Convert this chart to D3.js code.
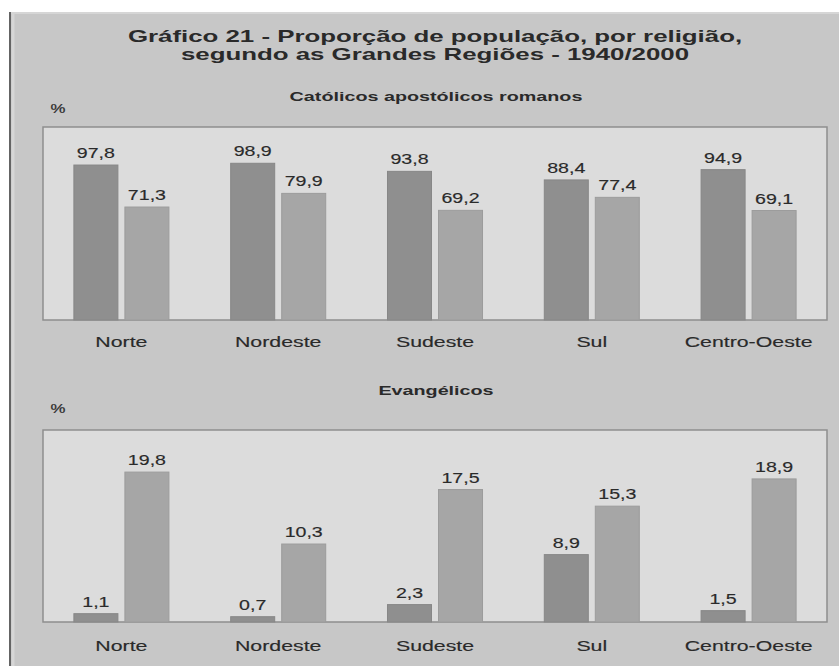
<!DOCTYPE html>
<html>
<head>
<meta charset="utf-8">
<script src="https://cdn.jsdelivr.net/npm/d3@7"></script>
<style>
  html, body { margin: 0; padding: 0; background: #ffffff; }
  svg { display: block; }
  text { font-family: "Liberation Sans", Arial, Helvetica, sans-serif; fill: #2a2a2a; }
</style>
</head>
<body>
<svg id="chart" width="839" height="666"></svg>
<script>
// ---- data ----
const titleLines = ["Gráfico 21 - Proporção de população, por religião,", "segundo as Grandes Regiões - 1940/2000"];
const panelTitles = ["Católicos apostólicos romanos", "Evangélicos"];
const regions = ["Norte", "Nordeste", "Sudeste", "Sul", "Centro-Oeste"];
const years = ["1940", "2000"];
const catolicos1940 = [97.8, 98.9, 93.8, 88.4, 94.9];
const catolicos2000 = [71.3, 79.9, 69.2, 77.4, 69.1];
const evangelicos1940 = [1.1, 0.7, 2.3, 8.9, 1.5];
const evangelicos2000 = [19.8, 10.3, 17.5, 15.3, 18.9];
const unitLabel = "%";

// ---- helpers ----
const W = 839, H = 666;
const svg = d3.select("#chart");
const ptBR = d3.formatLocale({decimal: ",", thousands: ".", grouping: [3], currency: ["R$", ""]});
const fmt = ptBR.format(".1f");

function stext(g, x, y, str, o) {
  return g.append("text")
    .attr("transform", `translate(${x},${y}) scale(${o.sx},1)`)
    .attr("text-anchor", o.anchor || "middle")
    .attr("font-size", o.size)
    .attr("font-weight", o.weight || "normal")
    .attr("stroke", o.stroke ? "#2a2a2a" : null)
    .attr("stroke-width", o.stroke || null)
    .text(str);
}

// ---- background panel ----
svg.append("rect").attr("x", 0).attr("y", 0).attr("width", W).attr("height", H).attr("fill", "#ffffff");
svg.append("rect").attr("x", 9).attr("y", 12).attr("width", W - 9).attr("height", H - 12).attr("fill", "#c7c7c7");
svg.append("line").attr("x1", 11).attr("x2", W).attr("y1", 13).attr("y2", 13).attr("stroke", "#d6d6d6").attr("stroke-width", 2);
svg.append("line").attr("x1", 13).attr("x2", 13).attr("y1", 12).attr("y2", H).attr("stroke", "#d6d6d6").attr("stroke-width", 3);
svg.append("line").attr("x1", 10).attr("x2", 10).attr("y1", 12).attr("y2", H).attr("stroke", "#646464").attr("stroke-width", 2);

// ---- title ----
stext(svg, 435, 42, titleLines[0], {size: 17, weight: "bold", sx: 1.52});
stext(svg, 435, 60, titleLines[1], {size: 17, weight: "bold", sx: 1.52});

// ---- panels ----
const x0 = d3.scaleBand().domain(regions).range([43, 827]).paddingInner(0.394).paddingOuter(0.197);
const x1 = d3.scaleBand().domain(years).range([0, x0.bandwidth()]).paddingInner(7 / 51);
const barColors = d3.scaleOrdinal().domain(years).range(["#8f8f8f", "#a6a6a6"]);
const barStroke = d3.scaleOrdinal().domain(years).range(["#878787", "#9c9c9c"]);

const panels = [
  {title: panelTitles[0], titleY: 101, unitY: 113, top: 127, bottom: 320, max: 121.8, labelY: 346.5,
   series: [catolicos1940, catolicos2000]},
  {title: panelTitles[1], titleY: 395, unitY: 413, top: 430, bottom: 622, max: 25.36, labelY: 651,
   series: [evangelicos1940, evangelicos2000]}
];

panels.forEach(p => {
  const g = svg.append("g");
  const y = d3.scaleLinear().domain([0, p.max]).range([p.bottom, p.top]);

  stext(g, 436, p.titleY, p.title, {size: 12.5, weight: "bold", sx: 1.58});
  stext(g, 58, p.unitY, unitLabel, {size: 12, sx: 1.4, stroke: 0.2});

  // plot area
  g.append("rect")
    .attr("x", x0.range()[0]).attr("y", y.range()[1])
    .attr("width", x0.range()[1] - x0.range()[0])
    .attr("height", y.range()[0] - y.range()[1])
    .attr("fill", "#dcdcdc").attr("stroke", "#8e8e8e").attr("stroke-width", 1.5);

  const data = regions.map((r, i) => ({region: r, vals: years.map((yr, k) => ({year: yr, v: p.series[k][i]}))}));

  const grp = g.selectAll("g.grp").data(data).join("g")
    .attr("class", "grp")
    .attr("transform", d => `translate(${x0(d.region)},0)`);

  grp.selectAll("rect").data(d => d.vals).join("rect")
    .attr("x", d => x1(d.year))
    .attr("y", d => y(d.v))
    .attr("width", x1.bandwidth())
    .attr("height", d => y(0) - y(d.v))
    .attr("fill", d => barColors(d.year))
    .attr("stroke", d => barStroke(d.year))
    .attr("stroke-width", 1);

  grp.each(function(d) {
    const gg = d3.select(this);
    d.vals.forEach(v => {
      stext(gg, x1(v.year) + x1.bandwidth() / 2, y(v.v) - 7, fmt(v.v), {size: 14, sx: 1.4, stroke: 0.15});
    });
  });

  // x axis labels (category axis without line/ticks)
  const axis = d3.axisBottom(x0).tickSize(0).tickPadding(0);
  const ax = g.append("g").attr("transform", `translate(0,${p.labelY})`).call(axis);
  ax.select(".domain").remove();
  ax.selectAll(".tick text")
    .attr("y", 0).attr("dy", 0)
    .attr("font-size", 14.5)
    .attr("font-family", "Liberation Sans, Arial, sans-serif")
    .attr("fill", "#2a2a2a")
    .attr("stroke", "#2a2a2a").attr("stroke-width", 0.15)
    .attr("transform", "scale(1.47,1)")
    .attr("x", 0);
});
</script>
</body>
</html>
